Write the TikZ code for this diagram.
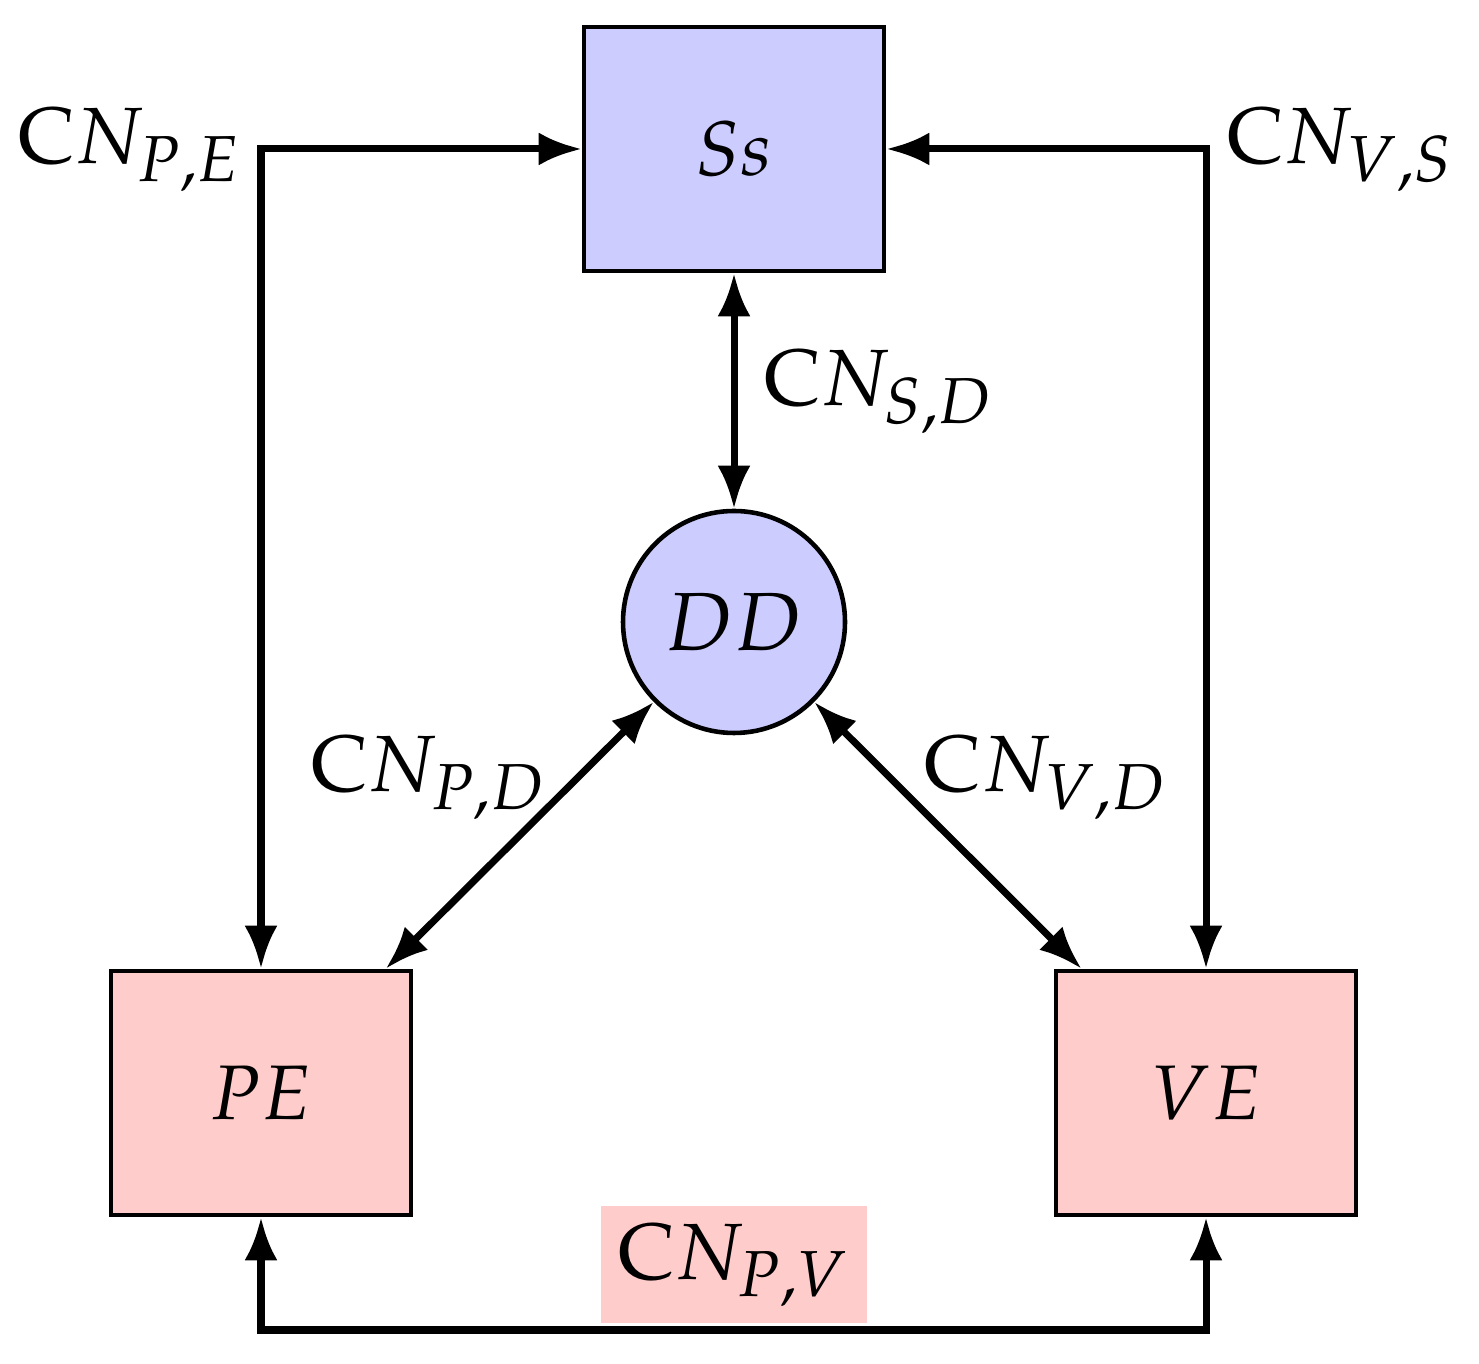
\documentclass[tikz,border=0pt]{standalone}
\usepackage{mathpazo}
\usetikzlibrary{arrows.meta}
\usetikzlibrary{positioning}
\DeclareMathSizes{22}{22}{18}{13}
\DeclareMathSizes{22.7}{22.7}{18.5}{13.5}
\DeclareMathSizes{23.5}{23.5}{19}{14}

\begin{document}
\begin{tikzpicture}[
		box/.style={draw, line width=1.3pt, minimum width=3.0cm, minimum height=2.44cm, font=\fontsize{22}{26}\selectfont},
		disk/.style={draw, circle, line width=1.3pt, minimum size=2.22cm, fill=blue!20, font=\fontsize{23.5}{28}\selectfont},
		link/.style={{Latex[length=4.3mm,width=3.3mm]}-{Latex[length=4.3mm,width=3.3mm]}, line width=2pt},
		lbl/.style={font=\fontsize{22.7}{27}\selectfont}
	]
	\useasboundingbox (0,0) rectangle (14.79,13.63);
	\node[box, fill=blue!20] (ss) at (7.34,12.14) {$Ss$};
	\node[disk] (dd) at (7.34,7.41) {$DD$};
	\node[box, fill=red!20] (pe) at (2.61,2.70) {$PE$};
	\node[box, fill=red!20] (ve) at (12.06,2.70) {$VE$};
	\coordinate (bl) at (2.61,0.33);
	\coordinate (br) at (12.06,0.33);
	\draw[link] (ss.west) -| node[lbl, pos=0.5, left=0.05cm] {$\mathrm{C}N_{P,E}$} (pe.north);
	\draw[link] (ss.east) -| node[lbl, pos=0.5, right=0.06cm] {$\mathrm{C}N_{V,S}$} (ve.north);
	\draw[link] (ss) -- node[lbl, midway, right=0.15cm] {$\mathrm{C}N_{S,D}$} (dd);
	\draw[link] (dd) -- node[lbl, midway, shift={(-0.91,0.58)}] {$\mathrm{C}N_{P,D}$} (pe);
	\draw[link] (dd) -- node[lbl, midway, shift={(0.98,0.58)}] {$\mathrm{C}N_{V,D}$} (ve);
	\draw[link] (pe.south) -- (bl) -- node[lbl, midway, above=0.035cm, fill=red!20, minimum width=2.66cm, minimum height=1.17cm] {$\mathrm{C}N_{P,V}$} (br) -- (ve.south);
\end{tikzpicture}
\end{document}
